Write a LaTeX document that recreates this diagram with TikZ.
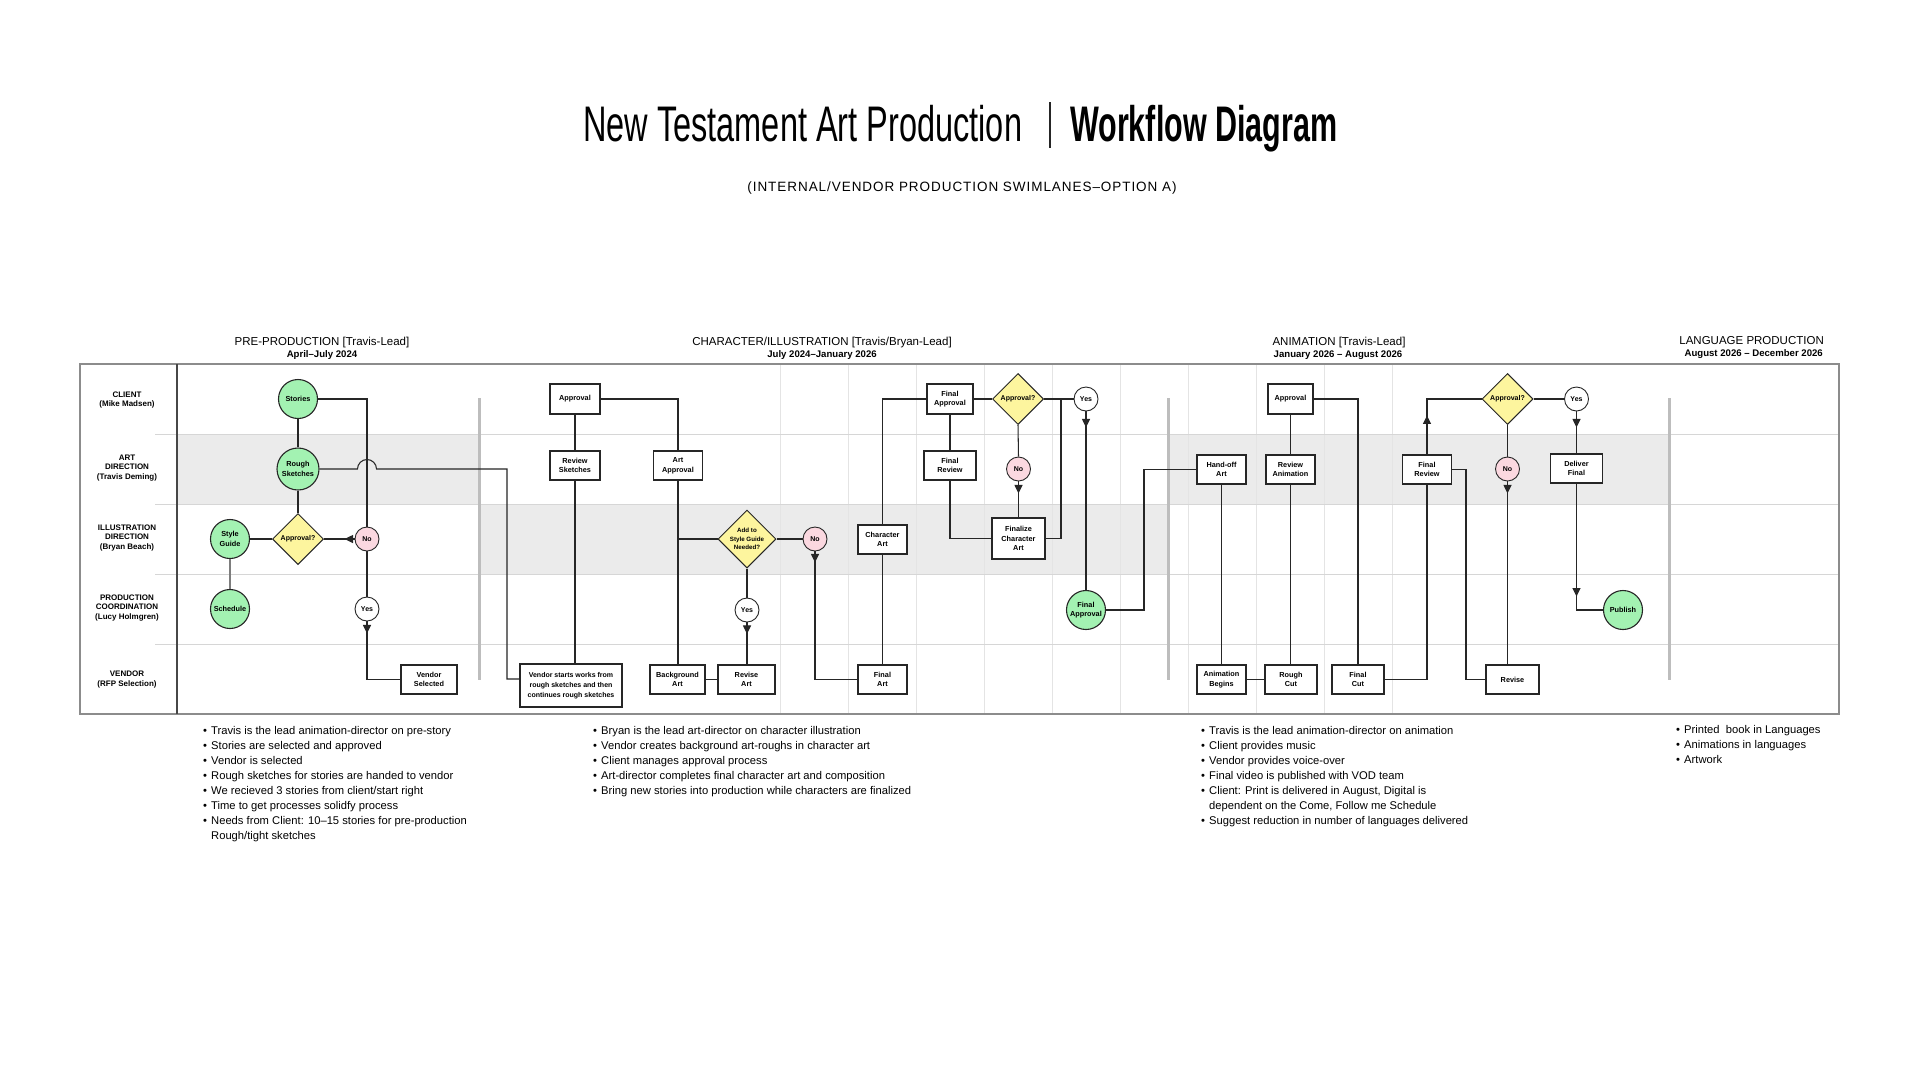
\documentclass[tikz,border=0pt]{standalone}
\usepackage{fontspec}
\setmainfont{Liberation Sans}
\usepackage{graphicx}
\usetikzlibrary{shapes.geometric,arrows.meta,calc}
\definecolor{cgreen}{HTML}{A3F2B2}
\definecolor{cyellow}{HTML}{FDF59E}
\definecolor{cpink}{HTML}{FBD8E0}
\definecolor{cshade}{HTML}{EBEBEB}
\definecolor{cgrid}{HTML}{E4E4E4}
\definecolor{csep}{HTML}{D6D6D6}
\definecolor{cline}{HTML}{262626}
\definecolor{cdiv}{HTML}{BDBDBD}
\definecolor{cframe}{HTML}{8C8C8C}
\newcommand\myfs[2]{\fontsize{#1}{#2}\selectfont}
\newcommand\bul{\makebox[8pt][l]{\raisebox{0.2pt}{\textbullet}}}
\begin{document}
\begin{tikzpicture}[x=1pt,y=-1pt,
  conn/.style={draw=cline, line width=1.05pt},
  arr/.style={conn, -{Triangle[length=8.5pt,width=8pt]}},
  gcirc/.style={circle, draw=cline, line width=1.1pt, fill=cgreen, minimum size=39pt, inner sep=0pt, align=center, font=\myfs{7.3}{9.5}\bfseries},
  pcirc/.style={circle, draw=cline, line width=0.9pt, fill=cpink, minimum size=24pt, inner sep=0pt, font=\myfs{7}{8}\bfseries},
  wcirc/.style={pcirc, fill=white},
  dia/.style={diamond, draw=cline, line width=1pt, fill=cyellow, minimum width=51pt, minimum height=51pt, inner sep=0pt, align=center, font=\myfs{7}{8}\bfseries},
  pbox/.style={rectangle, draw=cline, line width=1.05pt, fill=white, minimum width=50pt, minimum height=29pt, inner sep=0pt, align=center, font=\myfs{7.3}{9.6}\bfseries},
  lanelbl/.style={align=center, font=\myfs{8}{9.8}\bfseries, inner sep=0pt},
  phase/.style={font=\myfs{11.5}{13}, inner sep=0pt, anchor=base},
  phasesub/.style={font=\myfs{9.6}{11}\bfseries, inner sep=0pt, anchor=base},
  notes/.style={align=left, anchor=north west, inner sep=0pt, font=\myfs{11.2}{15.05}}
]
\fill[white] (0,0) rectangle (1920,1080);
\useasboundingbox (0,0) rectangle (1920,1080);

% ---------- title ----------
\node[anchor=base west, inner sep=0pt, font=\myfs{50}{50}] (t1) at (583,141) {\scalebox{0.65}[1]{New Testament Art Production}};
\node[anchor=base west, inner sep=0pt, font=\myfs{50}{50}\bfseries] (t2) at (1070,141) {\scalebox{0.61}[1]{Workflow Diagram}};
\coordinate (bar1) at (1050,102);
\coordinate (bar2) at (1050,148);
\draw[line width=2.2pt, cline] (bar1) -- (bar2);
\node[anchor=base, inner sep=0pt, font=\myfs{13.5}{15}\addfontfeature{LetterSpace=7}] (sub) at (962,191) {(INTERNAL/VENDOR PRODUCTION SWIMLANES–OPTION A)};

% ---------- phase headings ----------
\node[phase] (ph1) at (322,345) {PRE-PRODUCTION [Travis-Lead]};
\node[phasesub] (ph1s) at (322,357) {April–July 2024};
\node[phase] (ph2) at (822,345) {CHARACTER/ILLUSTRATION [Travis/Bryan-Lead]};
\node[phasesub] (ph2s) at (822,357) {July 2024–January 2026};
\node[phase] (ph3) at (1339,345) {ANIMATION [Travis-Lead]};
\node[phasesub] (ph3s) at (1338,357) {January 2026 – August 2026};
\node[phase, anchor=base east] (ph4) at (1824,344) {LANGUAGE PRODUCTION};
\node[phasesub, anchor=base east] (ph4s) at (1823,356) {August 2026 – December 2026};

% ---------- swimlane background ----------
\fill[cshade] (177,434) rectangle (479,504);
\fill[cshade] (479,504) rectangle (1168,574);
\fill[cshade] (1168,434) rectangle (1669,504);
\foreach \gx in {780,848,916,984,1052,1120,1188,1256,1324,1392}
  \draw[cgrid, line width=0.8pt] (\gx,364) -- (\gx,714);
\foreach \ly in {434,504,574,644}
  \draw[csep, line width=0.9pt] (155,\ly) -- (1839,\ly);
\foreach \dx in {479,1168,1669}
  \draw[cdiv, line width=3pt] (\dx,398) -- (\dx,680);
\draw[cframe, line width=1.4pt] (80,364) rectangle (1839,714);
\draw[cline!85, line width=1.1pt] (177,364) -- (177,714);

% ---------- lane labels ----------
\node[lanelbl] (l1) at (127,400) {CLIENT\\(Mike Madsen)};
\node[lanelbl] (l2) at (127,468) {ART\\DIRECTION\\(Travis Deming)};
\node[lanelbl] (l3) at (127,538) {ILLUSTRATION\\DIRECTION\\(Bryan Beach)};
\node[lanelbl] (l4) at (127,608) {PRODUCTION\\COORDINATION\\(Lucy Holmgren)};
\node[lanelbl] (l5) at (127,679.5) {VENDOR\\(RFP Selection)};

% ---------- pre-production ----------
\node[gcirc] (stories) at (298,399) {Stories};
\node[gcirc, minimum size=42pt] (rough) at (298,469) {Rough\\Sketches};
\node[dia] (appr1) at (298,539) {Approval?};
\node[gcirc] (style) at (230,539) {Style\\Guide};
\node[gcirc] (sched) at (230,609) {Schedule};
\node[pcirc] (no1) at (367,539) {No};
\node[wcirc] (yes1) at (367,609) {Yes};
\node[pbox, minimum width=56pt] (vsel) at (429,679.5) {Vendor\\Selected};
\node[pbox, minimum width=102pt, minimum height=43pt, font=\myfs{7}{9.8}\bfseries] (vstart) at (571,685.5) {Vendor starts works from\\rough sketches and then\\continues rough sketches};

% ---------- character / illustration ----------
\node[pbox, minimum height=30pt] (appr2) at (575,399) {Approval};
\node[pbox] (revsk) at (575,465.5) {Review\\Sketches};
\node[pbox, minimum width=49pt] (artappr) at (678,465.5) {Art\\Approval};
\node[pbox, minimum width=55pt] (bgart) at (677.5,679.5) {Background\\Art};
\node[dia, minimum width=58pt, minimum height=58pt, font=\myfs{6.2}{8.4}\bfseries] (addsg) at (747,539) {Add to\\Style Guide\\Needed?};
\node[pcirc] (no2) at (815,539) {No};
\node[wcirc] (yes2) at (747,610) {Yes};
\node[pbox, minimum width=57pt] (revart) at (746.5,679.5) {Revise\\Art};
\node[pbox, minimum width=49pt] (charart) at (882.5,539.5) {Character\\Art};
\node[pbox, minimum width=49pt] (finart) at (882.5,679.5) {Final\\Art};
\node[pbox, minimum width=46pt, minimum height=30pt] (finappr) at (950,399) {Final\\Approval};
\node[pbox, minimum width=52pt] (finrev1) at (950,465.5) {Final\\Review};
\node[pbox, minimum width=53pt, minimum height=41pt] (finchar) at (1018.5,538.5) {Finalize\\Character\\Art};
\node[dia] (appr3) at (1018,399) {Approval?};
\node[wcirc] (yes3) at (1086,399) {Yes};
\node[pcirc] (no3) at (1018.5,469) {No};
\node[gcirc] (finapprc) at (1086,610) {Final\\Approval};

% ---------- animation ----------
\node[pbox, minimum width=49pt] (handoff) at (1221.5,469.5) {Hand-off\\Art};
\node[pbox, minimum width=49pt] (animbeg) at (1221.5,679.5) {Animation\\Begins};
\node[pbox, minimum width=52pt] (roughcut) at (1291,679.5) {Rough\\Cut};
\node[pbox, minimum width=49pt] (revanim) at (1290.5,469.5) {Review\\Animation};
\node[pbox, minimum width=45pt, minimum height=30pt] (appr4) at (1290.5,399) {Approval};
\node[pbox, minimum width=52pt] (fincut) at (1358,679.5) {Final\\Cut};
\node[pbox, minimum width=49pt] (finrev2) at (1427,469.5) {Final\\Review};
\node[dia] (appr5) at (1507.5,399) {Approval?};
\node[wcirc] (yes4) at (1576.5,399) {Yes};
\node[pcirc] (no4) at (1507.5,469) {No};
\node[pbox, minimum width=53pt] (revise) at (1512.5,679.5) {Revise};
\node[pbox, minimum width=52pt] (deliver) at (1576.5,468.5) {Deliver\\Final};
\node[gcirc] (publish) at (1623,610) {Publish};

% ---------- connectors: pre-production ----------
\draw[conn] (stories.east) -| (no1.north);
\draw[conn] (stories.south) -- (rough.north);
\draw[conn] (rough.south) -- (appr1.north);
\draw[conn] (style.east) -- (appr1.west);
\draw[conn, draw=cline!60] (style.south) -- (sched.north);
\draw[conn] (appr1.east) -- (no1.west);
\draw[arr] (no1.west) -- ++(-10,0);
\draw[conn] (no1.south) -- (yes1.north);
\draw[conn] (yes1.south) |- (vsel.west);
\draw[arr] (yes1.south) -- ++(0,12);
\coordinate (hopA) at (357.5,469);
\coordinate (r1) at (507,469);
\coordinate (r2) at (507,679);
\draw[conn] (rough.east) -- (hopA) arc[start angle=180,end angle=360,radius=9.5] -- (r1) -- (r2) -- (r2 -| vstart.west);

% ---------- connectors: character ----------
\draw[conn] (appr2.south) -- (revsk.north);
\draw[conn] (revsk.south) -- (revsk.south |- vstart.north);
\draw[conn] (appr2.east) -| (artappr.north);
\draw[conn] (artappr.south) -- (artappr.south |- bgart.north);
\draw[conn] (artappr.south |- addsg.west) -- (addsg.west);
\draw[conn] (addsg.east) -- (no2.west);
\draw[conn] (no2.south) |- (finart.west);
\draw[arr] (no2.south) -- ++(0,11);
\draw[conn] (addsg.south) -- (yes2.north);
\draw[conn] (yes2.south) -- (yes2.south |- revart.north);
\draw[arr] (yes2.south) -- ++(0,11.5);
\draw[conn] (bgart.east) -- (revart.west);
\draw[conn] (charart.south) -- (finart.north);
\draw[conn] (charart.north) |- (finappr.west);
\draw[conn] (finappr.south) -- (finrev1.north);
\draw[conn] (finrev1.south) |- (finchar.west);
\draw[conn] (finappr.east) -- (appr3.west);
\draw[conn] (appr3.east) -- (yes3.west);
\draw[conn] (appr3.south) -- (no3.north);
\draw[conn] (no3.south) -- (no3.south |- finchar.north);
\draw[arr] (no3.south) -- ++(0,12);
\coordinate (j2) at (1061,399);
\draw[conn] (finchar.east) -| (j2);
\draw[conn] (yes3.south) -- (finapprc.north);
\draw[arr] (yes3.south) -- ++(0,16);
\coordinate (j3) at (1144,610);
\draw[conn] (finapprc.east) -- (j3) |- (handoff.west);

% ---------- connectors: animation ----------
\draw[conn] (handoff.south) -- (animbeg.north);
\draw[conn] (animbeg.east) -- (roughcut.west);
\draw[conn] (appr4.south) -- (revanim.north);
\draw[conn] (revanim.south) -- (revanim.south |- roughcut.north);
\draw[conn] (appr4.east) -| (fincut.north);
\draw[conn] (fincut.east) -| (finrev2.south);
\draw[conn] (finrev2.north) |- (appr5.west);
\draw[arr] (finrev2.north) -- ++(0,-39);
\coordinate (j4) at (1466,469.5);
\draw[conn] (finrev2.east) -- (j4) |- (revise.west);
\draw[conn] (appr5.east) -- (yes4.west);
\draw[conn] (appr5.south) -- (no4.north);
\draw[conn] (no4.south) -- (no4.south |- revise.north);
\draw[arr] (no4.south) -- ++(0,12);
\draw[conn] (yes4.south) -- (deliver.north);
\draw[arr] (yes4.south) -- ++(0,16);
\draw[conn] (deliver.south) |- (publish.west);
\draw[arr] (deliver.south) -- ++(0,113);

% ---------- notes ----------
\node[notes] (n1) at (203,726) {\bul Travis is the lead animation-director on pre-story\\
\bul Stories are selected and approved\\
\bul Vendor is selected\\
\bul Rough sketches for stories are handed to vendor\\
\bul We recieved 3 stories from client/start right\\
\bul Time to get processes solidfy process\\
\bul Needs from Client: 10–15 stories for pre-production\\
\hspace*{8pt}Rough/tight sketches};
\node[notes] (n2) at (593,726) {\bul Bryan is the lead art-director on character illustration\\
\bul Vendor creates background art-roughs in character art\\
\bul Client manages approval process\\
\bul Art-director completes final character art and composition\\
\bul Bring new stories into production while characters are finalized};
\node[notes] (n3) at (1201,726) {\bul Travis is the lead animation-director on animation\\
\bul Client provides music\\
\bul Vendor provides voice-over\\
\bul Final video is published with VOD team\\
\bul Client: Print is delivered in August, Digital is\\
\hspace*{8pt}dependent on the Come, Follow me Schedule\\
\bul Suggest reduction in number of languages delivered};
\node[notes] (n4) at (1676,725) {\bul Printed\ \ book in Languages\\
\bul Animations in languages\\
\bul Artwork};
\end{tikzpicture}
\end{document}
